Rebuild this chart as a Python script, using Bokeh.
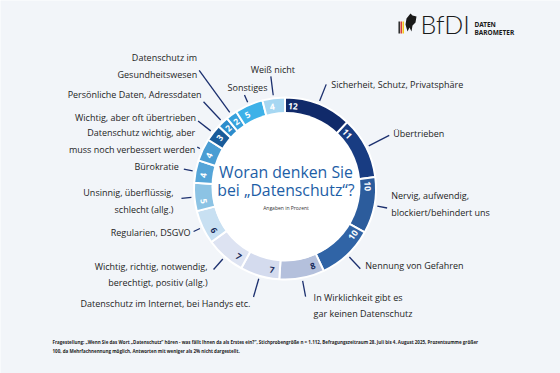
import numpy as np
from bokeh.plotting import figure
from bokeh.models import Range1d, ColumnDataSource
from bokeh.core.properties import value
from bokeh.embed import file_html
from bokeh.resources import INLINE

# ---------------- data ----------------
categories = [
    "Sicherheit, Schutz, Privatsphäre",
    "Übertrieben",
    "Nervig, aufwendig,\nblockiert/behindert uns",
    "Nennung von Gefahren",
    "In Wirklichkeit gibt es\ngar keinen Datenschutz",
    "Datenschutz im Internet, bei Handys etc.",
    "Wichtig, richtig, notwendig,\nberechtigt, positiv (allg.)",
    "Regularien, DSGVO",
    "Unsinnig, überflüssig,\nschlecht (allg.)",
    "Bürokratie",
    "Datenschutz wichtig, aber\nmuss noch verbessert werden",
    "Wichtig, aber oft übertrieben",
    "Persönliche Daten, Adressdaten",
    "Datenschutz im\nGesundheitswesen",
    "Sonstiges",
    "Weiß nicht",
]
values = [12, 11, 10, 10, 8, 7, 7, 6, 5, 4, 4, 3, 2, 2, 5, 4]

title_lines = ["Woran denken Sie", "bei „Datenschutz“?"]
subtitle = "Angaben in Prozent"
footnote = ["Fragestellung: „Wenn Sie das Wort „Datenschutz“ hören - was fällt Ihnen da als Erstes ein?“, "
            "Stichprobengröße n = 1.112, Befragungszeitraum 28. Juli bis 4. August 2025, Prozentsumme größer",
            "100, da Mehrfachnennung möglich, Antworten mit weniger als 2% nicht dargestellt."]
logo_main = "BfDI"
logo_sub = ["DATEN", "BAROMETER"]

# ---------------- styles ----------------
seg_colors = ["#102a6a", "#183c82", "#2c5c9c", "#3064a6", "#b4c0dc", "#d4dbee", "#dde3f2",
              "#c8e0f2", "#8cc3e4", "#55a5d8", "#4a9dd3", "#1a5c9a", "#2c8ccc", "#36a1dc",
              "#3db1e8", "#a6d7f2"]
num_colors = ["white"] * 4 + ["#1c2d5c"] * 4 + ["white"] * 8
# leader outer radius, text offset (dx, dy in px, dy downward), alignment
lead_r2 = [112, 117, 104, 110, 110, 113, 108, 101, 104, 103, 97, 110, 119, 146, 102, 113]
lab_dx = [5, 4, 4, 5, 8, -3, -6, -3, -8, -5, -2, -2, -2, -2, 3, 2]
lab_dy = [0, -2, -4, -3, 9, 6, 5, 1, 3, -3, -6, -4, -7, -4, -7, -7]
lab_align = ["left"] * 5 + ["right"] * 9 + ["center", "center"]

BG = "#f2f5f9"
CX, CY_IMG = 284.5, 188.0
R_OUT, R_IN = 91.0, 72.0
HOLE_X, HOLE_Y_IMG, HOLE_R = 285.5, 186.0, 74.5
FONT = "Open Sans"
W, H = 560, 373


def Y(img_y):
    return H - np.asarray(img_y, dtype=float)


p = figure(width=W, height=H, x_range=Range1d(0, W), y_range=Range1d(0, H),
           output_backend="svg", toolbar_location=None, min_border=0,
           x_axis_location=None, y_axis_location=None)
p.grid.visible = False
p.outline_line_color = None
p.background_fill_color = BG
p.border_fill_color = BG

cy = float(Y(CY_IMG))
vals = np.array(values, dtype=float)
scale = 360.0 / vals.sum()
theta_end = np.cumsum(vals) * scale
theta_start = theta_end - vals * scale
theta_mid = (theta_start + theta_end) / 2

# ring
src = ColumnDataSource(dict(
    start=np.radians(90 - theta_start), end=np.radians(90 - theta_end), color=seg_colors))
p.annular_wedge(x=CX, y=cy, inner_radius=R_IN, outer_radius=R_OUT, start_angle="start",
                end_angle="end", direction="clock", fill_color="color", line_color="white",
                line_width=2, source=src)
p.circle(x=HOLE_X, y=float(Y(HOLE_Y_IMG)), radius=HOLE_R, fill_color="white", line_color=None)

# value labels
lab_theta = theta_start + np.minimum(5.5, (theta_end - theta_start) / 2)
rl = 82.5
vx = CX + rl * np.sin(np.radians(lab_theta))
vy = cy + rl * np.cos(np.radians(lab_theta))
rot = np.where((lab_theta > 90) & (lab_theta < 270), 180 - lab_theta, -lab_theta)
p.text(x=vx, y=vy, text=[str(v) for v in values], angle=np.radians(rot),
       text_color=num_colors, text_font=value(FONT), text_font_size="6.5pt",
       text_font_style="bold", text_align="center", text_baseline="middle")

# leaders
r1 = R_OUT + 3
t = np.radians(theta_mid)
x0 = CX + r1 * np.sin(t)
y0 = cy + r1 * np.cos(t)
x1 = CX + np.array(lead_r2) * np.sin(t)
y1 = cy + np.array(lead_r2) * np.cos(t)
p.segment(x0=x0, y0=y0, x1=x1, y1=y1, line_color="#1b2f6e", line_width=1.3)

# category labels
for i, cat in enumerate(categories):
    p.text(x=[x1[i] + lab_dx[i]], y=[y1[i] - lab_dy[i]], text=[cat],
           text_font=value(FONT), text_font_size="9px", text_color="#1e1e1e",
           text_align=lab_align[i], text_baseline="middle", text_line_height=1.3)

# centre title
p.text(x=[HOLE_X, HOLE_X], y=Y([171, 189]), text=title_lines, text_font=value(FONT),
       text_font_size="15.8px", text_color="#1d5ea6", text_align="center", text_baseline="middle")
p.text(x=[HOLE_X], y=Y([207]), text=[subtitle], text_font=value(FONT), text_font_size="5px",
       text_color="#333333", text_align="center", text_baseline="middle")

# footnote
p.text(x=[52, 52], y=Y([341, 350]), text=footnote, text_font=value(FONT), text_font_size="4.5px",
       text_color="#1e1e1e", text_font_style="bold", text_align="left", text_baseline="middle")

# logo
p.text(x=[420], y=Y([23]), text=[logo_main], text_font=value("'Lato Light', Lato"),
       text_font_size="25px", text_color="#1a1a1a", text_align="left", text_baseline="middle")
p.text(x=[474, 474], y=Y([24, 32]), text=logo_sub, text_font=value("Noto Sans"),
       text_font_size="6.5px", text_font_style="bold", text_color="#1a1a1a",
       text_align="left", text_baseline="middle")
# small eagle emblem
ex = np.array([406, 410, 412, 416, 415, 412, 411, 409, 407, 405])
ey = Y([18, 13, 15, 16, 22, 25, 31, 27, 31, 24])
p.patch(x=ex, y=ey, fill_color="#1a1a1a", line_color=None)
for k, c in enumerate(["#1a1a1a", "#d62828", "#f2c200"]):
    p.quad(left=[398 + k * 2], right=[399.4 + k * 2], bottom=Y([33]), top=Y([21]),
           fill_color=c, line_color=None)

open("out.html", "w").write(file_html(p, INLINE))
